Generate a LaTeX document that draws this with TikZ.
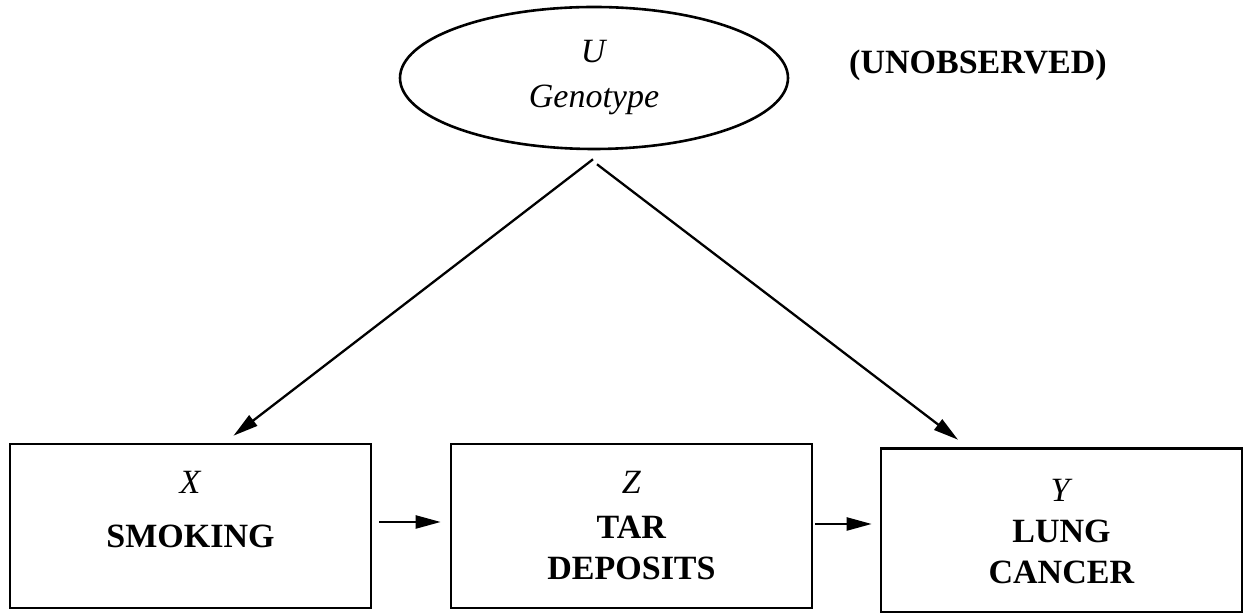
\documentclass[tikz,border=0pt]{standalone}
\usepackage{fontspec}
\setmainfont{Liberation Serif}
\usetikzlibrary{arrows.meta,shapes.geometric}

\begin{document}
\begin{tikzpicture}[
    x=0.5pt, y=-0.5pt,
    varbox/.style={draw, line width=1.3pt, minimum width=180.5pt, minimum height=82pt, inner sep=0pt},
    latent/.style={ellipse, draw, line width=1.3pt, minimum width=194pt, minimum height=71pt, inner sep=0pt},
    lbl/.style={align=center},
    >={Triangle[length=12.5pt, width=6.5pt]},
    font=\fontsize{17}{20.5}\selectfont
]
    \useasboundingbox (0,0) rectangle (1243,613);

    % 节点定义 (潜变量 + 3个观测变量)
    \node[latent, lbl] (U) at (594,78) {\textit{U}\\[2pt]\textit{Genotype}};   % 上方椭圆
    \node[font=\fontsize{17}{20.5}\selectfont\bfseries] (unobs) at (978,65) {(UNOBSERVED)};

    \node[varbox] (X) at (190.5,526) {};    % 左框
    \node[varbox] (Z) at (631.5,526) {};    % 中框
    \node[varbox] (Y) at (1061.5,530.5) {}; % 右框

    % 框内文字
    \node[lbl] (Xtext) at (190.5,510) {\textit{X}\\[6.5pt]\textbf{SMOKING}};
    \node[lbl] (Ztext) at (631.5,526) {\textit{Z}\\[2pt]\textbf{TAR}\\\textbf{DEPOSITS}};
    \node[lbl] (Ytext) at (1061.5,532) {\textit{Y}\\\textbf{LUNG}\\\textbf{CANCER}};

    % 1. 从椭圆指向左框和右框的直线
    \draw[->, line width=1.15pt] ([shift={(-1,9)}]U.south) -- ([shift={(43,-7)}]X.north);
    \draw[->, line width=1.15pt] ([shift={(3,14)}]U.south) -- ([shift={(-103.5,-7.5)}]Y.north);

    % 2. 框之间的水平箭头
    \draw[->, line width=1.15pt] ([shift={(7,-4)}]X.east) -- ([shift={(-9,-4)}]Z.west);
    \draw[->, line width=1.15pt] ([shift={(2,-2)}]Z.east) -- ([shift={(-8,-6.5)}]Y.west);

\end{tikzpicture}
\end{document}
